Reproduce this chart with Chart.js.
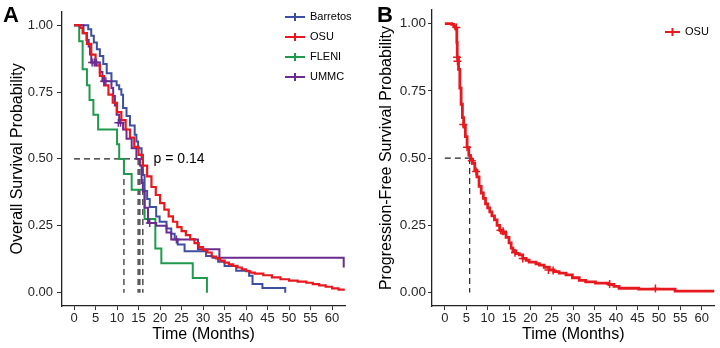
<!DOCTYPE html>
<html>
<head>
<meta charset="utf-8">
<script src="https://cdn.jsdelivr.net/npm/chart.js"></script>
<style>
  body { margin: 0; background: #fff; }
  #wrap { position: relative; width: 720px; height: 348px; }
  canvas { position: absolute; top: 0; }
</style>
</head>
<body>
<div id="wrap">
  <canvas id="chartA" width="360" height="348" style="left:0"></canvas>
  <canvas id="chartB" width="360" height="348" style="left:360px"></canvas>
</div>
<script>
/* --- data: [months, survival] --- */
const seriesNames = ["Barretos", "OSU", "FLENI", "UMMC"];

const barretosOS = [[0,1],[3.3,0.985],[4.0,0.96],[4.6,0.935],[5.3,0.91],[6.0,0.885],[6.8,0.855],[7.6,0.82],[8.7,0.79],[9.9,0.775],[10.5,0.76],[11.0,0.74],[11.4,0.69],[12.2,0.66],[13.0,0.625],[14.1,0.59],[14.5,0.565],[14.9,0.54],[15.7,0.50],[16.0,0.44],[16.4,0.38],[17.0,0.35],[17.6,0.32],[19.1,0.285],[19.9,0.265],[21.5,0.24],[22.6,0.22],[23.4,0.20],[24.1,0.18],[25.7,0.155],[30.7,0.137],[32.2,0.13],[33.5,0.115],[35.0,0.10],[37.7,0.082],[40.7,0.063],[41.5,0.032],[43.8,0.017],[49.1,0.0]];

const osuOS = [[0,1],[1.4,0.99],[2,0.97],[3,0.93],[4,0.89],[5,0.85],[6,0.81],[7,0.775],[8,0.74],[9,0.71],[10,0.675],[11,0.645],[12,0.61],[13,0.58],[14,0.545],[15,0.515],[16,0.475],[17,0.435],[18,0.395],[19,0.365],[20,0.335],[21,0.31],[22,0.285],[23,0.265],[24,0.245],[25,0.23],[26,0.215],[27,0.20],[28,0.185],[29,0.17],[30,0.16],[31,0.15],[32,0.135],[33,0.128],[34,0.12],[35,0.112],[36,0.106],[37,0.10],[38,0.094],[39,0.087],[40,0.08],[41,0.075],[42,0.071],[44,0.065],[46,0.057],[48,0.05],[50,0.045],[52,0.041],[54,0.037],[55.5,0.032],[57,0.027],[58.5,0.022],[60,0.016],[61.5,0.011],[62.7,0.007]];

const fleniOS = [[0,1],[1.2,0.94],[2.0,0.835],[3.0,0.775],[3.6,0.72],[4.5,0.665],[5.6,0.61],[10.0,0.555],[10.5,0.5],[11.6,0.444],[13.4,0.385],[16.4,0.275],[18.9,0.165],[20.3,0.11],[27.6,0.055],[30.9,0.0]];

const ummcOS = [[0,1],[2.2,0.97],[2.9,0.945],[3.4,0.92],[3.7,0.89],[4.0,0.86],[6.0,0.825],[6.6,0.79],[8.7,0.765],[9.1,0.735],[9.5,0.70],[9.9,0.665],[10.5,0.635],[11.4,0.61],[12.2,0.575],[13.4,0.54],[14.5,0.50],[15.3,0.475],[15.7,0.41],[16.0,0.378],[16.4,0.317],[17.2,0.26],[19.1,0.25],[21.5,0.225],[22.6,0.199],[28.8,0.162],[33.8,0.13],[62.7,0.094]];

const ummcCensor = [[4.2,0.86],[4.7,0.86],[5.2,0.86],[7.0,0.79],[7.4,0.79],[10.3,0.635],[10.8,0.635],[17.6,0.26],[23.8,0.199]];

const osMedians = [11.6, 14.9, 15.3, 16.0];
const pValueText = "p = 0.14";

const osuPFS = [[0,1],[1.6,0.997],[2.1,0.99],[2.5,0.98],[2.8,0.93],[2.9,0.875],[3.2,0.83],[3.5,0.76],[3.8,0.70],[4.1,0.65],[4.4,0.62],[4.8,0.58],[5.2,0.54],[5.6,0.51],[6.0,0.495],[6.5,0.48],[7.0,0.455],[7.5,0.43],[8.0,0.395],[8.5,0.37],[9.0,0.35],[9.5,0.33],[10.0,0.315],[10.5,0.30],[11.0,0.285],[11.6,0.27],[12.2,0.25],[12.8,0.232],[13.5,0.22],[14.3,0.205],[15.0,0.185],[15.5,0.165],[15.9,0.155],[16.6,0.145],[17.4,0.14],[18.2,0.127],[19.0,0.12],[19.7,0.113],[21.3,0.107],[22.1,0.102],[23.2,0.094],[24.4,0.084],[25.5,0.078],[26.7,0.072],[28.3,0.066],[29.8,0.055],[31.4,0.045],[32.9,0.04],[35.2,0.035],[38.3,0.03],[39.5,0.023],[40.7,0.016],[45.3,0.013],[49.2,0.013],[53.8,0.005],[63,0.005]];

const osuPFSCensor = [[2.7,0.985],[2.85,0.875],[2.95,0.86],[4.3,0.625],[5.2,0.54],[6.3,0.49],[7.3,0.45],[13.0,0.232],[13.6,0.228],[16.4,0.148],[18.2,0.127],[24.2,0.084],[25.3,0.082],[38.5,0.032],[49.2,0.015]];
const pfsMedian = 5.8;

const xTicks = [0,5,10,15,20,25,30,35,40,45,50,55,60];
const yTicks = [0, 0.25, 0.5, 0.75, 1];

/* --- styles --- */
const colors = { Barretos: "#3D4FA1", OSU: "#E8191E", FLENI: "#1F9A4C", UMMC: "#6B2C90" };
const FONT = '"Liberation Sans", Arial, sans-serif';

const pts = arr => arr.map(([x, y]) => ({ x, y }));

function kmLine(arr, color, width) {
    return { data: pts(arr), borderColor: color, borderWidth: width, stepped: 'before',
             pointRadius: 0, fill: false };
}
function censors(arr, color, r) {
    return { data: pts(arr), showLine: false, pointStyle: 'cross', pointRadius: r,
             borderColor: color, borderWidth: 1.5 };
}
function dashed(arr) {
    return { data: pts(arr), borderColor: "#222", borderWidth: 1.2, borderDash: [6, 4],
             pointRadius: 0, fill: false };
}
function medianLines(medians) {
    const sets = [dashed([[0, 0.5], [Math.max(...medians), 0.5]])];
    medians.forEach(m => sets.push(dashed([[m, 0.5], [m, 0]])));
    return sets;
}

/* letter, p value and legend drawn over the plot like ggsurvplot */
const kmDecor = {
    id: 'kmDecor',
    afterDatasetsDraw(chart, args, o) {
        const ctx = chart.ctx;
        ctx.save();
        ctx.fillStyle = "#000";
        ctx.textBaseline = "top";
        ctx.font = "bold 22px " + FONT;
        ctx.fillText(o.letter, o.letterX, o.letterY);

        if (o.pText) {
            const x = chart.scales.x.getPixelForValue(o.pAt[0]);
            const y = chart.scales.y.getPixelForValue(o.pAt[1]);
            ctx.font = "14px " + FONT;
            ctx.textBaseline = "middle";
            ctx.fillText(o.pText, x, y);
        }

        ctx.font = "11px " + FONT;
        ctx.textBaseline = "middle";
        o.items.forEach((name, i) => {
            const y = o.legY + i * 20;
            ctx.strokeStyle = colors[name];
            ctx.lineWidth = 2;
            ctx.beginPath();
            ctx.moveTo(o.legX, y); ctx.lineTo(o.legX + o.legLen, y);
            const mx = o.legX + o.legLen / 2;
            ctx.moveTo(mx, y - 4); ctx.lineTo(mx, y + 4);
            ctx.stroke();
            ctx.fillStyle = "#000";
            ctx.fillText(name, o.legX + o.legLen + 5, y);
        });
        ctx.restore();
    }
};

function axes(xmin, ytitle, yw, ytitlePad, ytickSize, ytickLen, ytickPad) {
    return {
        x: {
            type: 'linear', min: xmin, max: 63,
            afterBuildTicks: s => { s.ticks = xTicks.map(v => ({ value: v })); },
            afterFit: s => { s.height = 42; },
            ticks: { color: "#262626", font: { size: 13, family: FONT }, padding: 1,
                     maxRotation: 0, autoSkip: false },
            grid: { drawOnChartArea: false, tickLength: 4, color: "#333", lineWidth: 1 },
            border: { color: "#222", width: 1.3 },
            title: { display: true, text: "Time (Months)", color: "#000",
                     font: { size: 16, family: FONT }, padding: { top: 0, bottom: 4 } }
        },
        y: {
            min: -0.05, max: 1.05,
            afterBuildTicks: s => { s.ticks = yTicks.map(v => ({ value: v })); },
            afterFit: s => { s.width = yw; },
            ticks: { color: "#262626", font: { size: ytickSize, family: FONT }, padding: ytickPad,
                     callback: v => v.toFixed(2) },
            grid: { drawOnChartArea: false, tickLength: ytickLen, color: "#333", lineWidth: 1 },
            border: { color: "#222", width: 1.3 },
            title: { display: true, text: ytitle, color: "#000",
                     font: { size: 16, family: FONT }, padding: { top: ytitlePad, bottom: 0 } }
        }
    };
}

new Chart(document.getElementById("chartA"), {
    type: "line",
    data: {
        datasets: [
            censors(ummcCensor, colors.UMMC, 4),
            kmLine(osuOS, colors.OSU, 2.2),
            kmLine(ummcOS, colors.UMMC, 2),
            kmLine(barretosOS, colors.Barretos, 2),
            kmLine(fleniOS, colors.FLENI, 2),
            ...medianLines(osMedians)
        ]
    },
    options: {
        responsive: false, animation: false,
        layout: { padding: { top: 10, right: 15, bottom: 0, left: 0 } },
        scales: axes(-2.8, "Overall Survival Probability", 62, 7.5, 13, 5, 4),
        plugins: {
            legend: { display: false }, tooltip: { enabled: false },
            kmDecor: { letter: "A", letterX: 3, letterY: 5, pText: pValueText, pAt: [18.5, 0.5],
                       items: seriesNames, legX: 285, legY: 17, legLen: 20 }
        }
    },
    plugins: [kmDecor]
});

new Chart(document.getElementById("chartB"), {
    type: "line",
    data: {
        datasets: [
            censors(osuPFSCensor, colors.OSU, 4),
            kmLine(osuPFS, colors.OSU, 2.8),
            ...medianLines([pfsMedian])
        ]
    },
    options: {
        responsive: false, animation: false,
        layout: { padding: { top: 10, right: 4, bottom: 0, left: 0 } },
        scales: axes(-3.0, "Progression-Free Survival Probability", 72, 17, 13.5, 4, 2),
        plugins: {
            legend: { display: false }, tooltip: { enabled: false },
            kmDecor: { letter: "B", letterX: 17, letterY: 5,
                       items: ["OSU"], legX: 305, legY: 32, legLen: 15 }
        }
    },
    plugins: [kmDecor]
});
</script>
</body>
</html>
